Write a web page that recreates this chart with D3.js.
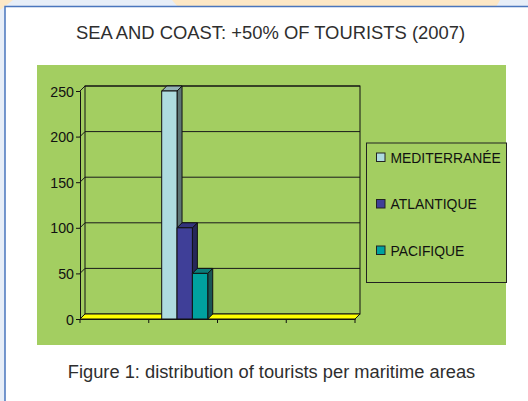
<!DOCTYPE html>
<html><head><meta charset="utf-8">
<script src="https://cdn.jsdelivr.net/npm/d3@7"></script>
<style>html,body{margin:0;padding:0;background:#e7eef8;overflow:hidden}svg{display:block}</style>
</head><body>
<script>
const title = "SEA AND COAST: +50% OF TOURISTS (2007)";
const caption = "Figure 1: distribution of tourists per maritime areas";
const categories = ["c1", "c2", "c3", "c4"];
const series = ["MEDITERRANÉE", "ATLANTIQUE", "PACIFIQUE"];
const mediterranee = [null, 250, null, null];
const atlantique = [null, 100, null, null];
const pacifique = [null, 50, null, null];
const yTicks = [0, 50, 100, 150, 200, 250];
const frontColors = ["#aedcdf", "#3f3f98", "#00a19f"];
const sideColors = ["#5d7575", "#262659", "#1a5656"];
const topColors = ["#93b3b5", "#33337c", "#0b7b79"];

const values = [mediterranee, atlantique, pacifique];
const W = 528, H = 401;
const svg = d3.select("body").append("svg").attr("width", W).attr("height", H);

// page background decorations
svg.append("rect").attr("width", W).attr("height", H).attr("fill", "#e7eef8");
svg.append("polygon").attr("points", "172,0 500,0 496,7 178,7").attr("fill", "#fde8c6");
svg.append("polygon").attr("points", "0,0 13,0 0,10").attr("fill", "#fde8c6");
svg.append("rect").attr("x", 5).attr("y", 6.5).attr("width", 540).attr("height", 420)
  .attr("fill", "#ffffff").attr("stroke", "#4a76bd").attr("stroke-width", 1.5);

svg.append("text").attr("x", 270.5).attr("y", 38.5).attr("text-anchor", "middle")
  .attr("font-family", "Liberation Sans, Arial, sans-serif").attr("font-size", 18.4)
  .attr("fill", "#2e2e2e").text(title);

// green chart area
svg.append("rect").attr("x", 37).attr("y", 65).attr("width", 469).attr("height", 280).attr("fill", "#a3ce61");

const dx = 5, dy = -5;
const x = d3.scaleBand().domain(categories).range([80, 355]);
const xs = d3.scaleBand().domain(series).range([0, x.bandwidth()]).paddingOuter(0.74).align(0.57);
const y = d3.scaleLinear().domain([0, 250]).range([319, 91]);
const g = svg.append("g").attr("fill", "none");
const x0 = x.range()[0], x1 = x.range()[1];

// back wall gridlines
yTicks.forEach(t => {
  if (t === 0) return;
  g.append("line").attr("x1", x0 + dx).attr("x2", x1 + dx).attr("y1", y(t) + dy).attr("y2", y(t) + dy)
    .attr("stroke", "#1a1a1a").attr("stroke-width", 1);
  g.append("line").attr("x1", x0).attr("x2", x0 + dx).attr("y1", y(t)).attr("y2", y(t) + dy)
    .attr("stroke", "#1a1a1a").attr("stroke-width", 1);
});
// back wall outline
g.append("rect").attr("x", x0 + dx).attr("y", y(250) + dy).attr("width", x1 - x0).attr("height", y(0) - y(250))
  .attr("stroke", "#111").attr("stroke-width", 1);

// floor
g.append("polygon")
  .attr("points", [[x0, y(0)], [x1, y(0)], [x1 + dx, y(0) + dy], [x0 + dx, y(0) + dy]].map(p => p.join(",")).join(" "))
  .attr("fill", "#ffff00").attr("stroke", "#111").attr("stroke-width", 1);

// bars
series.forEach((s, si) => {
  values[si].forEach((v, ci) => {
    if (v == null) return;
    const bx = x(categories[ci]) + xs(s), bw = xs.bandwidth();
    const top = y(v), bot = y(0);
    const bg = g.append("g").attr("stroke", "#111").attr("stroke-width", 1).attr("stroke-linejoin", "round");
    bg.append("polygon").attr("points", [[bx + bw, top], [bx + bw + dx, top + dy], [bx + bw + dx, bot + dy], [bx + bw, bot]].map(p => p.join(",")).join(" "))
      .attr("fill", sideColors[si]);
    bg.append("polygon").attr("points", [[bx, top], [bx + dx, top + dy], [bx + bw + dx, top + dy], [bx + bw, top]].map(p => p.join(",")).join(" "))
      .attr("fill", topColors[si]);
    bg.append("rect").attr("x", bx).attr("y", top).attr("width", bw).attr("height", bot - top).attr("fill", frontColors[si]);
  });
});

// axes
const yAxis = d3.axisLeft(y).tickValues(yTicks).tickSize(4).tickPadding(2);
const ya = svg.append("g").attr("transform", `translate(${x0},0)`).call(yAxis);
ya.select(".domain").attr("stroke", "#111");
ya.selectAll(".tick line").attr("stroke", "#111");
ya.selectAll("text").attr("font-family", "Liberation Sans, Arial, sans-serif").attr("font-size", 14.2).attr("fill", "#111").attr("dy", "0.36em");

const xAxis = d3.axisBottom(x).tickValues([]).tickSizeOuter(0);
const xa = svg.append("g").attr("transform", `translate(0,${y(0)})`).call(xAxis);
xa.select(".domain").attr("stroke", "#111");
const bounds = categories.map(c => x(c)).concat([x1]);
xa.selectAll("line.tk").data(bounds).join("line").attr("class", "tk")
  .attr("x1", d => d).attr("x2", d => d).attr("y1", 0).attr("y2", 4).attr("stroke", "#111");

// legend
const lg = svg.append("g");
lg.append("rect").attr("x", 366.5).attr("y", 143).attr("width", 140).attr("height", 139.5)
  .attr("fill", "none").attr("stroke", "#222").attr("stroke-width", 1);
const ly = d3.scalePoint().domain(series).range([157.5, 250.5]);
series.forEach((s, i) => {
  lg.append("rect").attr("x", 376.5).attr("y", ly(s) - 4.5).attr("width", 8.5).attr("height", 8.5)
    .attr("fill", frontColors[i]).attr("stroke", "#222").attr("stroke-width", 1);
  lg.append("text").attr("x", 390.5).attr("y", ly(s)).attr("dy", "0.36em")
    .attr("font-family", "Liberation Sans, Arial, sans-serif").attr("font-size", 13.9).attr("fill", "#111").text(s);
});

svg.append("text").attr("x", 271.5).attr("y", 377.5).attr("text-anchor", "middle")
  .attr("font-family", "Liberation Sans, Arial, sans-serif").attr("font-size", 18.3)
  .attr("fill", "#2e2e2e").text(caption);
</script>
</body></html>
